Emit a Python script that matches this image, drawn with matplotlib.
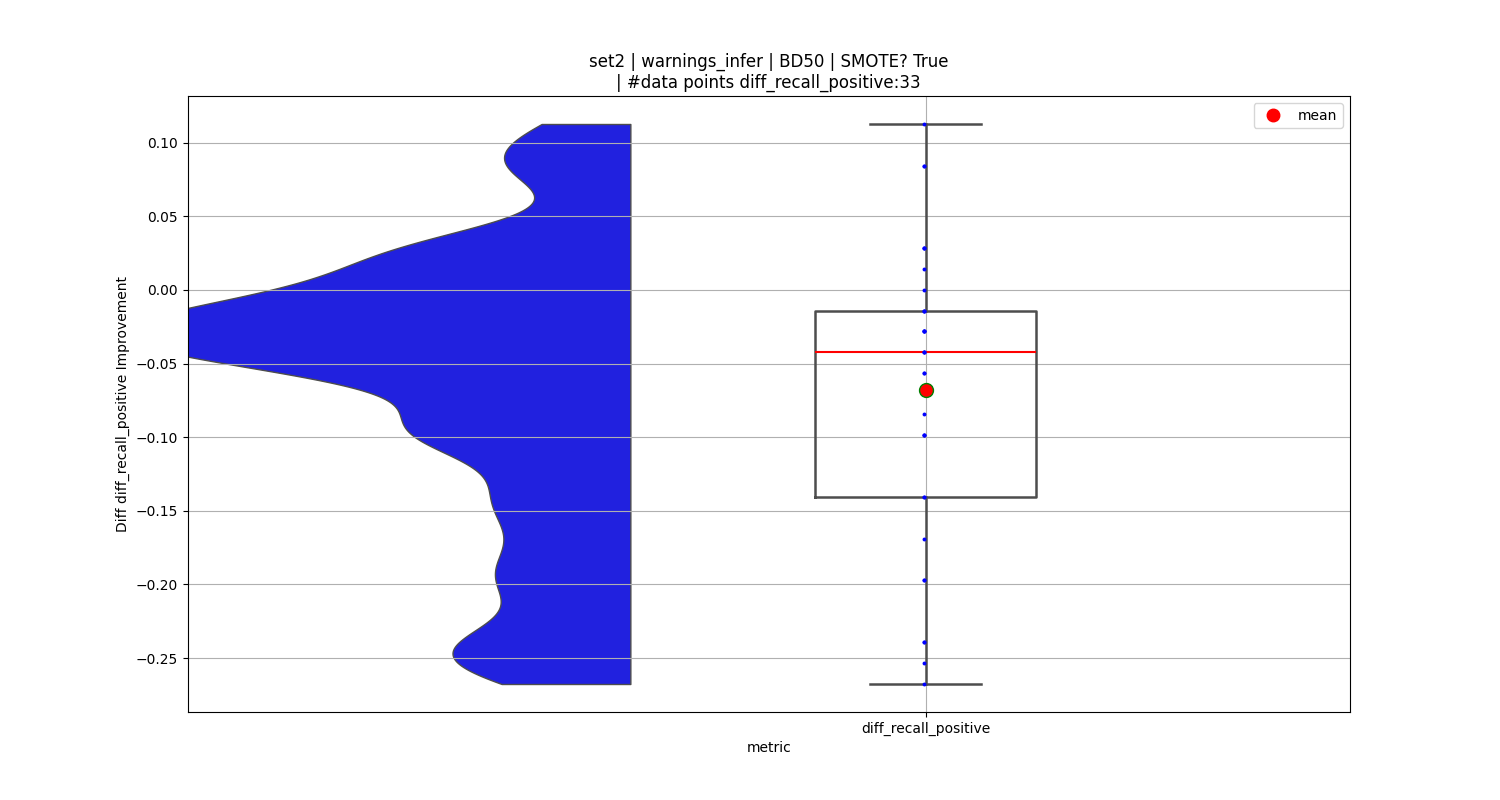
import numpy as np
import matplotlib.pyplot as plt
from matplotlib.lines import Line2D

# values read from the strip points, repeated where dots overlap
metric = 'diff_recall_positive'
values = ([-0.2676] * 1 + [-0.2535] * 1 + [-0.2394] * 2 + [-0.1972] * 2 +
          [-0.1690] * 1 + [-0.1408] * 2 + [-0.0986] * 3 + [-0.0845] * 1 +
          [-0.0563] * 2 + [-0.0423] * 3 + [-0.0282] * 4 + [-0.0141] * 3 +
          [0.0] * 1 + [0.0141] * 1 + [0.0282] * 3 + [0.0845] * 2 + [0.1127] * 1)
title = ('set2 | warnings_infer | BD50 | SMOTE? True\n'
         '| #data points diff_recall_positive:33')

data = np.array(values)
n = len(data)

# gaussian kde, cut at the data range
kde_bw = 0.02
ys = np.linspace(data.min(), data.max(), 500)
dens = np.exp(-0.5 * ((ys[:, None] - data[None, :]) / kde_bw) ** 2).sum(axis=1)
dens = dens / (n * kde_bw * np.sqrt(2 * np.pi))

fig, ax = plt.subplots(figsize=(15, 8), dpi=100)

# half violin on the left, shifted away from the box
v_center = -0.4
v_width = 0.69
half = dens / dens.max() * v_width
ax.fill_betweenx(ys, v_center - half, v_center, facecolor='#2121df',
                 edgecolor='#4d4d4d', linewidth=1, zorder=1)

# box
gray = '#4d4d4d'
ax.boxplot(data, positions=[0], widths=0.3, whis=1.5, showfliers=False,
           boxprops=dict(color=gray, linewidth=1.8),
           whiskerprops=dict(color=gray, linewidth=1.8),
           capprops=dict(color=gray, linewidth=1.8),
           medianprops=dict(color='red', linewidth=1.5),
           zorder=2)

# raw points
ax.plot(np.full(n, -0.002), data, 'o', color='blue', markersize=2.8,
        markeredgewidth=0, zorder=3)

# mean
ax.plot([0], [data.mean()], 'o', markerfacecolor='red',
        markeredgecolor='green', markersize=10, zorder=4)

ax.set_xlim(-1.0, 0.575)
ax.set_xticks([0])
ax.set_xticklabels([metric])
ax.set_xlabel('metric')
ax.set_ylabel('Diff diff_recall_positive Improvement')
ax.set_title(title)
ax.grid(True)

handle = Line2D([], [], marker='o', color='red', linestyle='None',
                markersize=9)
ax.legend([handle], ['mean'], loc='upper right')

fig.savefig('out.png')
